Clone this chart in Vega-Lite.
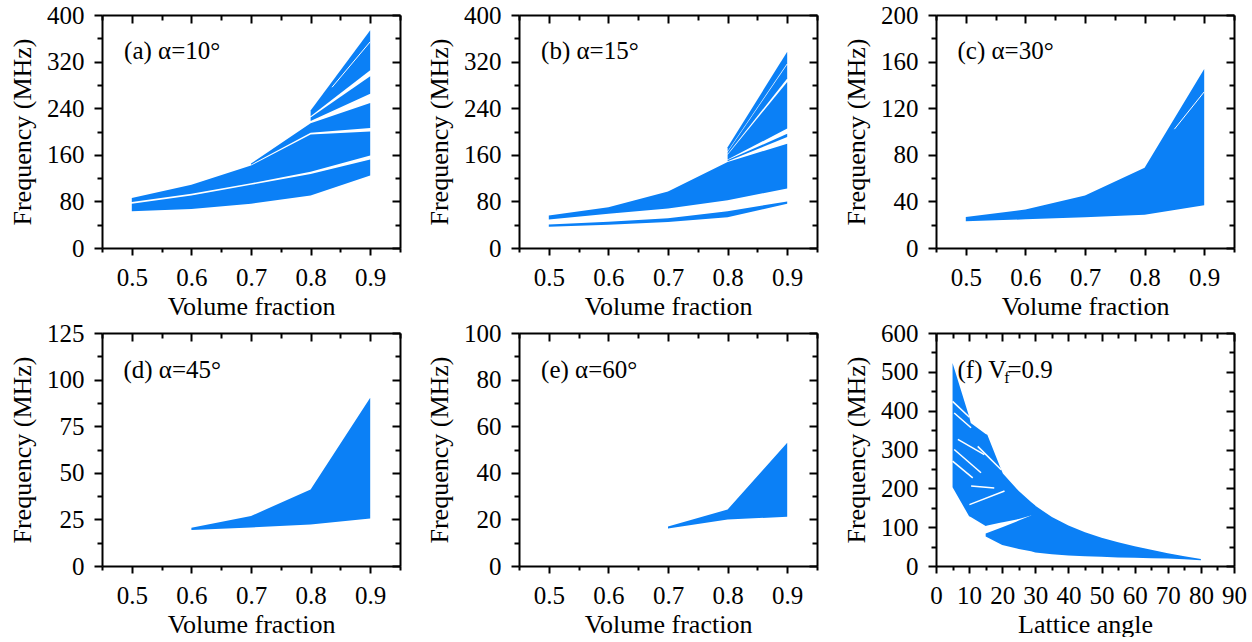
{
  "$schema": "https://vega.github.io/schema/vega-lite/v6.json",
  "padding": {"left": 9, "top": 3, "right": 5, "bottom": 0},
  "background": "white",
  "config": {
    "font": "Liberation Serif",
    "view": {"stroke": null},
    "axis": {
      "labelFont": "Liberation Serif", "labelFontSize": 25, "labelColor": "black",
      "titleFont": "Liberation Serif", "titleFontSize": 26, "titleFontWeight": "normal", "titleColor": "black",
      "domainColor": "black", "domainWidth": 2, "tickColor": "black", "tickWidth": 2,
      "grid": false, "labelOverlap": false, "labelFlush": false, "labelBound": false
    },
    "axisBottom": {"labelPadding": 10, "titlePadding": 3},
    "axisLeft": {"labelPadding": 10, "titlePadding": 11}
  },
  "datasets": {
    "areas": [
      {"p":"a","band":"a1","x":0.8,"lo":226,"hi":236},{"p":"a","band":"a1","x":0.9,"lo":305,"hi":374},
      {"p":"a","band":"a2","x":0.8,"lo":218,"hi":224},{"p":"a","band":"a2","x":0.9,"lo":265,"hi":295},
      {"p":"a","band":"a3","x":0.7,"lo":143,"hi":145},{"p":"a","band":"a3","x":0.8,"lo":198,"hi":214},{"p":"a","band":"a3","x":0.9,"lo":206,"hi":249},
      {"p":"a","band":"a4","x":0.5,"lo":79,"hi":86},{"p":"a","band":"a4","x":0.6,"lo":93,"hi":108.5},{"p":"a","band":"a4","x":0.7,"lo":111,"hi":141.5},{"p":"a","band":"a4","x":0.8,"lo":131,"hi":195},{"p":"a","band":"a4","x":0.9,"lo":159,"hi":200},
      {"p":"a","band":"a5","x":0.5,"lo":63,"hi":76},{"p":"a","band":"a5","x":0.6,"lo":67,"hi":90},{"p":"a","band":"a5","x":0.7,"lo":76,"hi":108.5},{"p":"a","band":"a5","x":0.8,"lo":90,"hi":127},{"p":"a","band":"a5","x":0.9,"lo":124.6,"hi":152},

      {"p":"b","band":"b1","x":0.8,"lo":166,"hi":173},{"p":"b","band":"b1","x":0.9,"lo":317,"hi":337},
      {"p":"b","band":"b2","x":0.8,"lo":161.5,"hi":165},{"p":"b","band":"b2","x":0.9,"lo":291,"hi":315},
      {"p":"b","band":"b3","x":0.8,"lo":152,"hi":160},{"p":"b","band":"b3","x":0.9,"lo":205,"hi":285},
      {"p":"b","band":"b4","x":0.8,"lo":149,"hi":151},{"p":"b","band":"b4","x":0.9,"lo":190.5,"hi":196},
      {"p":"b","band":"b5","x":0.5,"lo":49,"hi":56},{"p":"b","band":"b5","x":0.6,"lo":59,"hi":70},{"p":"b","band":"b5","x":0.7,"lo":68,"hi":97},{"p":"b","band":"b5","x":0.8,"lo":82,"hi":147.5},{"p":"b","band":"b5","x":0.9,"lo":102,"hi":179},
      {"p":"b","band":"b6","x":0.5,"lo":36.5,"hi":40.5},{"p":"b","band":"b6","x":0.6,"lo":40,"hi":45},{"p":"b","band":"b6","x":0.7,"lo":44.5,"hi":51},{"p":"b","band":"b6","x":0.8,"lo":53,"hi":63},{"p":"b","band":"b6","x":0.9,"lo":76,"hi":80},

      {"p":"c","band":"c1","x":0.5,"lo":22.9,"hi":26.6},{"p":"c","band":"c1","x":0.6,"lo":24.6,"hi":33.1},{"p":"c","band":"c1","x":0.7,"lo":26.3,"hi":45.1},{"p":"c","band":"c1","x":0.8,"lo":28.6,"hi":68.9},{"p":"c","band":"c1","x":0.9,"lo":36.6,"hi":153.7},

      {"p":"d","band":"d1","x":0.6,"lo":19.3,"hi":20.5},{"p":"d","band":"d1","x":0.7,"lo":20.7,"hi":26.8},{"p":"d","band":"d1","x":0.8,"lo":22.3,"hi":41.1},{"p":"d","band":"d1","x":0.9,"lo":25.5,"hi":90.2},

      {"p":"e","band":"e1","x":0.7,"lo":16.1,"hi":16.9},{"p":"e","band":"e1","x":0.8,"lo":20,"hi":24.3},{"p":"e","band":"e1","x":0.9,"lo":21.1,"hi":52.9},

      {"p":"f","band":"U","x":5,"lo":203,"hi":523},{"p":"f","band":"U","x":10,"lo":128,"hi":385},{"p":"f","band":"U","x":10.5,"lo":126,"hi":368},{"p":"f","band":"U","x":15,"lo":103,"hi":340},{"p":"f","band":"U","x":15.5,"lo":104,"hi":338},{"p":"f","band":"U","x":19.7,"lo":112,"hi":248},{"p":"f","band":"U","x":20.2,"lo":112.5,"hi":238},{"p":"f","band":"U","x":25,"lo":121,"hi":193},{"p":"f","band":"U","x":28.7,"lo":130,"hi":165},{"p":"f","band":"U","x":30,"lo":131,"hi":156},
      {"p":"f","band":"L","x":15,"lo":76,"hi":84},{"p":"f","band":"L","x":20,"lo":54,"hi":100},{"p":"f","band":"L","x":25,"lo":44,"hi":117},{"p":"f","band":"L","x":28.7,"lo":38,"hi":130},{"p":"f","band":"L","x":30,"lo":35,"hi":155},{"p":"f","band":"L","x":35,"lo":30,"hi":126},{"p":"f","band":"L","x":40,"lo":27,"hi":104},{"p":"f","band":"L","x":45,"lo":25,"hi":87},{"p":"f","band":"L","x":50,"lo":23.5,"hi":73},{"p":"f","band":"L","x":55,"lo":22,"hi":61},{"p":"f","band":"L","x":60,"lo":21,"hi":51},{"p":"f","band":"L","x":65,"lo":20,"hi":42},{"p":"f","band":"L","x":70,"lo":19,"hi":33},{"p":"f","band":"L","x":75,"lo":17.5,"hi":25},{"p":"f","band":"L","x":80,"lo":15,"hi":18}
    ],
    "gaps": [
      {"p":"a","g":"a1","x":0.836,"y":276},{"p":"a","g":"a1","x":0.9,"y":354},
      {"p":"c","g":"c1","x":0.85,"y":102},{"p":"c","g":"c1","x":0.9,"y":134},
      {"p":"f","g":"g1","x":5.0,"y":424},{"p":"f","g":"g1","x":10.1,"y":383},
      {"p":"f","g":"g2","x":5.5,"y":394},{"p":"f","g":"g2","x":10.6,"y":356},
      {"p":"f","g":"g3","x":6.6,"y":326},{"p":"f","g":"g3","x":14.6,"y":287},
      {"p":"f","g":"g4","x":12.6,"y":308},{"p":"f","g":"g4","x":19.7,"y":248},
      {"p":"f","g":"g5","x":5.5,"y":300},{"p":"f","g":"g5","x":13.6,"y":240},
      {"p":"f","g":"g6","x":5.0,"y":270},{"p":"f","g":"g6","x":11.1,"y":227},
      {"p":"f","g":"g7","x":10.6,"y":206},{"p":"f","g":"g7","x":17.6,"y":201},
      {"p":"f","g":"g8","x":10.1,"y":158},{"p":"f","g":"g8","x":20.7,"y":193}
    ],
    "labels": [
      {"p":"a","x":0.487,"y":325,"t":"(a) α=10°"},
      {"p":"b","x":0.487,"y":325,"t":"(b) α=15°"},
      {"p":"c","x":0.486,"y":162.5,"t":"(c) α=30°"},
      {"p":"d","x":0.486,"y":101,"t":"(d) α=45°"},
      {"p":"e","x":0.487,"y":80.7,"t":"(e) α=60°"},
      {"p":"f","x":6.5,"y":484,"t":"(f) V"},
      {"p":"f","x":21.6,"y":484,"t":"=0.9"}
    ],
    "subs": [
      {"p":"f","x":20.6,"y":470,"t":"f"}
    ]
  },
  "columns": 3,
  "spacing": {"row": 2, "column": 25},
  "concat": [
    {
      "width": 298, "height": 233,
      "layer": [
        {"data":{"name":"areas"},"transform":[{"filter":"datum.p==='a'"}],
         "mark":{"type":"area","color":"#0b80f6","opacity":1},
         "encoding":{
           "x":{"field":"x","type":"quantitative","scale":{"domain":[0.45,0.95],"nice":false,"zero":false},
                "axis":{"orient":"bottom","values":[0.45,0.5,0.55,0.6,0.65,0.7,0.75,0.8,0.85,0.9,0.95],"labelExpr":"round(datum.value*100)%10==0 ? format(datum.value,'.1f') : ''","tickSize":{"condition":{"test":"round(datum.value*100)%10==0","value":7},"value":4},"title":"Volume fraction"}},
           "y":{"field":"hi","type":"quantitative","scale":{"domain":[0,400],"nice":false},
                "axis":{"orient":"left","values":[0,40,80,120,160,200,240,280,320,360,400],"labelExpr":"datum.value%80==0 ? datum.label : ''","tickSize":{"condition":{"test":"datum.value%80==0","value":8},"value":5},"title":"Frequency (MHz)"}},
           "y2":{"field":"lo"},
           "detail":{"field":"band"}}},
        {"data":{"name":"areas"},"transform":[{"filter":"datum.p==='a'"}],
         "mark":{"type":"point","opacity":0},
         "encoding":{
           "x":{"field":"x","type":"quantitative","scale":{"domain":[0.45,0.95],"nice":false,"zero":false},
                "axis":{"orient":"top","values":[0.45,0.5,0.55,0.6,0.65,0.7,0.75,0.8,0.85,0.9,0.95],"labels":false,"title":null,"tickSize":{"condition":{"test":"round(datum.value*100)%10==0","value":-8},"value":-5}}},
           "y":{"field":"hi","type":"quantitative","scale":{"domain":[0,400],"nice":false},
                "axis":{"orient":"right","values":[0,40,80,120,160,200,240,280,320,360,400],"labels":false,"title":null,"tickSize":{"condition":{"test":"datum.value%80==0","value":-8},"value":-5}}}}},
        {"data":{"name":"gaps"},"transform":[{"filter":"datum.p==='a'"}],
         "mark":{"type":"line","color":"white","strokeWidth":1},
         "encoding":{"x":{"field":"x","type":"quantitative","axis":null,"scale":{"domain":[0.45,0.95],"nice":false,"zero":false}},"y":{"field":"y","type":"quantitative","axis":null,"scale":{"domain":[0,400],"nice":false}},"detail":{"field":"g"}}},
        {"data":{"name":"labels"},"transform":[{"filter":"datum.p==='a'"}],
         "mark":{"type":"text","align":"left","baseline":"alphabetic","fontSize":25,"font":"Liberation Serif","color":"black"},
         "encoding":{"x":{"field":"x","type":"quantitative","axis":null,"scale":{"domain":[0.45,0.95],"nice":false,"zero":false}},"y":{"field":"y","type":"quantitative","axis":null,"scale":{"domain":[0,400],"nice":false}},"text":{"field":"t"}}}
      ],
      "resolve":{"axis":{"x":"independent","y":"independent"}}
    },
    {
      "width": 298, "height": 233,
      "layer": [
        {"data":{"name":"areas"},"transform":[{"filter":"datum.p==='b'"}],
         "mark":{"type":"area","color":"#0b80f6","opacity":1},
         "encoding":{
           "x":{"field":"x","type":"quantitative","scale":{"domain":[0.45,0.95],"nice":false,"zero":false},
                "axis":{"orient":"bottom","values":[0.45,0.5,0.55,0.6,0.65,0.7,0.75,0.8,0.85,0.9,0.95],"labelExpr":"round(datum.value*100)%10==0 ? format(datum.value,'.1f') : ''","tickSize":{"condition":{"test":"round(datum.value*100)%10==0","value":7},"value":4},"title":"Volume fraction"}},
           "y":{"field":"hi","type":"quantitative","scale":{"domain":[0,400],"nice":false},
                "axis":{"orient":"left","values":[0,40,80,120,160,200,240,280,320,360,400],"labelExpr":"datum.value%80==0 ? datum.label : ''","tickSize":{"condition":{"test":"datum.value%80==0","value":8},"value":5},"title":"Frequency (MHz)"}},
           "y2":{"field":"lo"},
           "detail":{"field":"band"}}},
        {"data":{"name":"areas"},"transform":[{"filter":"datum.p==='b'"}],
         "mark":{"type":"point","opacity":0},
         "encoding":{
           "x":{"field":"x","type":"quantitative","scale":{"domain":[0.45,0.95],"nice":false,"zero":false},
                "axis":{"orient":"top","values":[0.45,0.5,0.55,0.6,0.65,0.7,0.75,0.8,0.85,0.9,0.95],"labels":false,"title":null,"tickSize":{"condition":{"test":"round(datum.value*100)%10==0","value":-8},"value":-5}}},
           "y":{"field":"hi","type":"quantitative","scale":{"domain":[0,400],"nice":false},
                "axis":{"orient":"right","values":[0,40,80,120,160,200,240,280,320,360,400],"labels":false,"title":null,"tickSize":{"condition":{"test":"datum.value%80==0","value":-8},"value":-5}}}}},
        {"data":{"name":"labels"},"transform":[{"filter":"datum.p==='b'"}],
         "mark":{"type":"text","align":"left","baseline":"alphabetic","fontSize":25,"font":"Liberation Serif","color":"black"},
         "encoding":{"x":{"field":"x","type":"quantitative","axis":null,"scale":{"domain":[0.45,0.95],"nice":false,"zero":false}},"y":{"field":"y","type":"quantitative","axis":null,"scale":{"domain":[0,400],"nice":false}},"text":{"field":"t"}}}
      ],
      "resolve":{"axis":{"x":"independent","y":"independent"}}
    },
    {
      "width": 298, "height": 233,
      "layer": [
        {"data":{"name":"areas"},"transform":[{"filter":"datum.p==='c'"}],
         "mark":{"type":"area","color":"#0b80f6","opacity":1},
         "encoding":{
           "x":{"field":"x","type":"quantitative","scale":{"domain":[0.45,0.95],"nice":false,"zero":false},
                "axis":{"orient":"bottom","values":[0.45,0.5,0.55,0.6,0.65,0.7,0.75,0.8,0.85,0.9,0.95],"labelExpr":"round(datum.value*100)%10==0 ? format(datum.value,'.1f') : ''","tickSize":{"condition":{"test":"round(datum.value*100)%10==0","value":7},"value":4},"title":"Volume fraction"}},
           "y":{"field":"hi","type":"quantitative","scale":{"domain":[0,200],"nice":false},
                "axis":{"orient":"left","values":[0,20,40,60,80,100,120,140,160,180,200],"labelExpr":"datum.value%40==0 ? datum.label : ''","tickSize":{"condition":{"test":"datum.value%40==0","value":8},"value":5},"title":"Frequency (MHz)"}},
           "y2":{"field":"lo"},
           "detail":{"field":"band"}}},
        {"data":{"name":"areas"},"transform":[{"filter":"datum.p==='c'"}],
         "mark":{"type":"point","opacity":0},
         "encoding":{
           "x":{"field":"x","type":"quantitative","scale":{"domain":[0.45,0.95],"nice":false,"zero":false},
                "axis":{"orient":"top","values":[0.45,0.5,0.55,0.6,0.65,0.7,0.75,0.8,0.85,0.9,0.95],"labels":false,"title":null,"tickSize":{"condition":{"test":"round(datum.value*100)%10==0","value":-8},"value":-5}}},
           "y":{"field":"hi","type":"quantitative","scale":{"domain":[0,200],"nice":false},
                "axis":{"orient":"right","values":[0,20,40,60,80,100,120,140,160,180,200],"labels":false,"title":null,"tickSize":{"condition":{"test":"datum.value%40==0","value":-8},"value":-5}}}}},
        {"data":{"name":"gaps"},"transform":[{"filter":"datum.p==='c'"}],
         "mark":{"type":"line","color":"white","strokeWidth":1},
         "encoding":{"x":{"field":"x","type":"quantitative","axis":null,"scale":{"domain":[0.45,0.95],"nice":false,"zero":false}},"y":{"field":"y","type":"quantitative","axis":null,"scale":{"domain":[0,200],"nice":false}},"detail":{"field":"g"}}},
        {"data":{"name":"labels"},"transform":[{"filter":"datum.p==='c'"}],
         "mark":{"type":"text","align":"left","baseline":"alphabetic","fontSize":25,"font":"Liberation Serif","color":"black"},
         "encoding":{"x":{"field":"x","type":"quantitative","axis":null,"scale":{"domain":[0.45,0.95],"nice":false,"zero":false}},"y":{"field":"y","type":"quantitative","axis":null,"scale":{"domain":[0,200],"nice":false}},"text":{"field":"t"}}}
      ],
      "resolve":{"axis":{"x":"independent","y":"independent"}}
    },
    {
      "width": 298, "height": 233,
      "layer": [
        {"data":{"name":"areas"},"transform":[{"filter":"datum.p==='d'"}],
         "mark":{"type":"area","color":"#0b80f6","opacity":1},
         "encoding":{
           "x":{"field":"x","type":"quantitative","scale":{"domain":[0.45,0.95],"nice":false,"zero":false},
                "axis":{"orient":"bottom","values":[0.45,0.5,0.55,0.6,0.65,0.7,0.75,0.8,0.85,0.9,0.95],"labelExpr":"round(datum.value*100)%10==0 ? format(datum.value,'.1f') : ''","tickSize":{"condition":{"test":"round(datum.value*100)%10==0","value":7},"value":4},"title":"Volume fraction"}},
           "y":{"field":"hi","type":"quantitative","scale":{"domain":[0,125],"nice":false},
                "axis":{"orient":"left","values":[0,12.5,25,37.5,50,62.5,75,87.5,100,112.5,125],"labelExpr":"datum.value%25==0 ? datum.label : ''","tickSize":{"condition":{"test":"datum.value%25==0","value":8},"value":5},"title":"Frequency (MHz)"}},
           "y2":{"field":"lo"},
           "detail":{"field":"band"}}},
        {"data":{"name":"areas"},"transform":[{"filter":"datum.p==='d'"}],
         "mark":{"type":"point","opacity":0},
         "encoding":{
           "x":{"field":"x","type":"quantitative","scale":{"domain":[0.45,0.95],"nice":false,"zero":false},
                "axis":{"orient":"top","values":[0.45,0.5,0.55,0.6,0.65,0.7,0.75,0.8,0.85,0.9,0.95],"labels":false,"title":null,"tickSize":{"condition":{"test":"round(datum.value*100)%10==0","value":-8},"value":-5}}},
           "y":{"field":"hi","type":"quantitative","scale":{"domain":[0,125],"nice":false},
                "axis":{"orient":"right","values":[0,12.5,25,37.5,50,62.5,75,87.5,100,112.5,125],"labels":false,"title":null,"tickSize":{"condition":{"test":"datum.value%25==0","value":-8},"value":-5}}}}},
        {"data":{"name":"labels"},"transform":[{"filter":"datum.p==='d'"}],
         "mark":{"type":"text","align":"left","baseline":"alphabetic","fontSize":25,"font":"Liberation Serif","color":"black"},
         "encoding":{"x":{"field":"x","type":"quantitative","axis":null,"scale":{"domain":[0.45,0.95],"nice":false,"zero":false}},"y":{"field":"y","type":"quantitative","axis":null,"scale":{"domain":[0,125],"nice":false}},"text":{"field":"t"}}}
      ],
      "resolve":{"axis":{"x":"independent","y":"independent"}}
    },
    {
      "width": 298, "height": 233,
      "layer": [
        {"data":{"name":"areas"},"transform":[{"filter":"datum.p==='e'"}],
         "mark":{"type":"area","color":"#0b80f6","opacity":1},
         "encoding":{
           "x":{"field":"x","type":"quantitative","scale":{"domain":[0.45,0.95],"nice":false,"zero":false},
                "axis":{"orient":"bottom","values":[0.45,0.5,0.55,0.6,0.65,0.7,0.75,0.8,0.85,0.9,0.95],"labelExpr":"round(datum.value*100)%10==0 ? format(datum.value,'.1f') : ''","tickSize":{"condition":{"test":"round(datum.value*100)%10==0","value":7},"value":4},"title":"Volume fraction"}},
           "y":{"field":"hi","type":"quantitative","scale":{"domain":[0,100],"nice":false},
                "axis":{"orient":"left","values":[0,10,20,30,40,50,60,70,80,90,100],"labelExpr":"datum.value%20==0 ? datum.label : ''","tickSize":{"condition":{"test":"datum.value%20==0","value":8},"value":5},"title":"Frequency (MHz)"}},
           "y2":{"field":"lo"},
           "detail":{"field":"band"}}},
        {"data":{"name":"areas"},"transform":[{"filter":"datum.p==='e'"}],
         "mark":{"type":"point","opacity":0},
         "encoding":{
           "x":{"field":"x","type":"quantitative","scale":{"domain":[0.45,0.95],"nice":false,"zero":false},
                "axis":{"orient":"top","values":[0.45,0.5,0.55,0.6,0.65,0.7,0.75,0.8,0.85,0.9,0.95],"labels":false,"title":null,"tickSize":{"condition":{"test":"round(datum.value*100)%10==0","value":-8},"value":-5}}},
           "y":{"field":"hi","type":"quantitative","scale":{"domain":[0,100],"nice":false},
                "axis":{"orient":"right","values":[0,10,20,30,40,50,60,70,80,90,100],"labels":false,"title":null,"tickSize":{"condition":{"test":"datum.value%20==0","value":-8},"value":-5}}}}},
        {"data":{"name":"labels"},"transform":[{"filter":"datum.p==='e'"}],
         "mark":{"type":"text","align":"left","baseline":"alphabetic","fontSize":25,"font":"Liberation Serif","color":"black"},
         "encoding":{"x":{"field":"x","type":"quantitative","axis":null,"scale":{"domain":[0.45,0.95],"nice":false,"zero":false}},"y":{"field":"y","type":"quantitative","axis":null,"scale":{"domain":[0,100],"nice":false}},"text":{"field":"t"}}}
      ],
      "resolve":{"axis":{"x":"independent","y":"independent"}}
    },
    {
      "width": 298, "height": 233,
      "layer": [
        {"data":{"name":"areas"},"transform":[{"filter":"datum.p==='f'"}],
         "mark":{"type":"area","color":"#0b80f6","opacity":1},
         "encoding":{
           "x":{"field":"x","type":"quantitative","scale":{"domain":[0,90],"nice":false,"zero":false},
                "axis":{"orient":"bottom","values":[0,5,10,15,20,25,30,35,40,45,50,55,60,65,70,75,80,85,90],"labelExpr":"datum.value%10==0 ? datum.label : ''","tickSize":{"condition":{"test":"datum.value%10==0","value":7},"value":4},"title":"Lattice angle"}},
           "y":{"field":"hi","type":"quantitative","scale":{"domain":[0,600],"nice":false},
                "axis":{"orient":"left","values":[0,50,100,150,200,250,300,350,400,450,500,550,600],"labelExpr":"datum.value%100==0 ? datum.label : ''","tickSize":{"condition":{"test":"datum.value%100==0","value":8},"value":5},"title":"Frequency (MHz)"}},
           "y2":{"field":"lo"},
           "detail":{"field":"band"}}},
        {"data":{"name":"areas"},"transform":[{"filter":"datum.p==='f'"}],
         "mark":{"type":"point","opacity":0},
         "encoding":{
           "x":{"field":"x","type":"quantitative","scale":{"domain":[0,90],"nice":false,"zero":false},
                "axis":{"orient":"top","values":[0,5,10,15,20,25,30,35,40,45,50,55,60,65,70,75,80,85,90],"labels":false,"title":null,"tickSize":{"condition":{"test":"datum.value%10==0","value":-8},"value":-5}}},
           "y":{"field":"hi","type":"quantitative","scale":{"domain":[0,600],"nice":false},
                "axis":{"orient":"right","values":[0,50,100,150,200,250,300,350,400,450,500,550,600],"labels":false,"title":null,"tickSize":{"condition":{"test":"datum.value%100==0","value":-8},"value":-5}}}}},
        {"data":{"name":"gaps"},"transform":[{"filter":"datum.p==='f'"}],
         "mark":{"type":"line","color":"white","strokeWidth":1.5},
         "encoding":{"x":{"field":"x","type":"quantitative","axis":null,"scale":{"domain":[0,90],"nice":false,"zero":false}},"y":{"field":"y","type":"quantitative","axis":null,"scale":{"domain":[0,600],"nice":false}},"detail":{"field":"g"}}},
        {"data":{"name":"labels"},"transform":[{"filter":"datum.p==='f'"}],
         "mark":{"type":"text","align":"left","baseline":"alphabetic","fontSize":25,"font":"Liberation Serif","color":"black"},
         "encoding":{"x":{"field":"x","type":"quantitative","axis":null,"scale":{"domain":[0,90],"nice":false,"zero":false}},"y":{"field":"y","type":"quantitative","axis":null,"scale":{"domain":[0,600],"nice":false}},"text":{"field":"t"}}},
        {"data":{"name":"subs"},"transform":[{"filter":"datum.p==='f'"}],
         "mark":{"type":"text","align":"left","baseline":"alphabetic","fontSize":16,"font":"Liberation Serif","color":"black"},
         "encoding":{"x":{"field":"x","type":"quantitative","axis":null,"scale":{"domain":[0,90],"nice":false,"zero":false}},"y":{"field":"y","type":"quantitative","axis":null,"scale":{"domain":[0,600],"nice":false}},"text":{"field":"t"}}}
      ],
      "resolve":{"axis":{"x":"independent","y":"independent"}}
    }
  ]
}
